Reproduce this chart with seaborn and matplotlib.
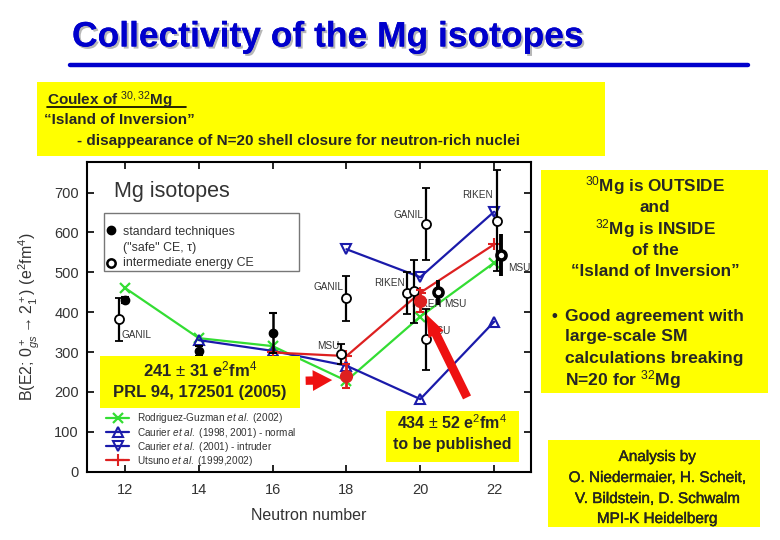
import numpy as np
import pandas as pd
import seaborn as sns
import matplotlib
matplotlib.use("Agg")
import matplotlib.pyplot as plt
from matplotlib.patches import Rectangle
from matplotlib.lines import Line2D
import matplotlib.patheffects as pe

# ---------------- data ----------------
theory_N_rg = [12, 14, 16, 18, 20, 22]
theory_B_rg = [461, 335, 315, 228, 389, 524]          # Rodriguez-Guzman
theory_N_cn = [14, 16, 18, 20, 22]
theory_B_cn = [330, 303, 266, 182, 376]               # Caurier normal
theory_N_ci = [18, 20, 22]
theory_B_ci = [558, 488, 652]                         # Caurier intruder
theory_N_ut = [16, 18, 20, 22]
theory_B_ut = [299, 290, 449, 570]                    # Utsuno

std_N = [12, 14, 16]
std_B = [431, 303, 348]
std_err = [8, 13, 50]

ie_N = [11.84, 18.0, 17.85, 20.16, 19.63, 19.84, 20.16, 22.07]
ie_B = [382, 435, 295, 621, 448, 452, 332, 630]
ie_err = [54, 57, 25, 90, 53, 80, 76, 126]

msu_N = [20.49, 22.2]
msu_B = [450, 544]
msu_err = [31, 53]

this_N = [18, 20]
this_B = [240, 428]
this_err = [31, 28]

lab_text = ["GANIL", "GANIL", "MSU", "GANIL", "RIKEN", "RIKEN", "MSU", "MSU", "RIKEN", "MSU"]
lab_N = [11.9, 17.92, 17.8, 20.08, 19.59, 19.74, 20.64, 20.21, 21.97, 22.38]
lab_B = [343, 464, 315, 644, 474, 421, 421, 354, 694, 511]
lab_ha = ["left", "right", "right", "right", "right", "left", "left", "left", "right", "left"]

xticks = [12, 14, 16, 18, 20, 22]
yticks = [0, 100, 200, 300, 400, 500, 600, 700]

# ---------------- style ----------------
sns.set_style("ticks")
plt.rcParams["font.family"] = ["Liberation Sans", "DejaVu Sans"]
plt.rcParams["mathtext.fontset"] = "custom"
plt.rcParams["mathtext.rm"] = "Liberation Sans"
plt.rcParams["mathtext.it"] = "Liberation Sans:italic"
plt.rcParams["mathtext.bf"] = "Liberation Sans:bold"

W, H = 780, 540
fig = plt.figure(figsize=(7.8, 5.4), dpi=100)
fig.patch.set_facecolor("white")

def fx(x):
    return x / W

def fy(y):
    return 1 - y / H

ax_l, ax_r, ax_t, ax_b = 87.3, 531, 162.3, 471.7
ax = fig.add_axes([fx(ax_l), fy(ax_b), (ax_r - ax_l) / W, (ax_b - ax_t) / H])
ax.set_xlim(10.98, 23.0)
ax.set_ylim(0, 776)

GREEN = "#33dd33"
BLUE = "#1a1aaa"
RED = "#dd2020"
GRAY = "#333333"

# theory curves
sns.lineplot(x=theory_N_rg, y=theory_B_rg, ax=ax, color=GREEN, lw=1.6, marker="x",
             markersize=7, markeredgewidth=1.6, markeredgecolor=GREEN,
             label=r"Rodriguez-Guzman $\it{et\ al.}$ (2002)", zorder=3)
sns.lineplot(x=theory_N_cn, y=theory_B_cn, ax=ax, color=BLUE, lw=1.6, marker="^",
             markersize=7, markeredgewidth=1.5, markerfacecolor="none", markeredgecolor=BLUE,
             label=r"Caurier $\it{et\ al.}$ (1998, 2001) - normal", zorder=3)
sns.lineplot(x=theory_N_ci, y=theory_B_ci, ax=ax, color=BLUE, lw=1.6, marker="v",
             markersize=7, markeredgewidth=1.5, markerfacecolor="none", markeredgecolor=BLUE,
             label=r"Caurier $\it{et\ al.}$ (2001) - intruder", zorder=3)
sns.lineplot(x=theory_N_ut, y=theory_B_ut, ax=ax, color=RED, lw=1.6, marker="+",
             markersize=9, markeredgewidth=1.5, markeredgecolor=RED,
             label=r"Utsuno $\it{et\ al.}$ (1999,2002)", zorder=3)

# experimental points
ax.errorbar(std_N, std_B, yerr=std_err, fmt="o", color="black", ms=6, capsize=3,
            elinewidth=1.8, capthick=1.5, zorder=5)
ax.errorbar(ie_N, ie_B, yerr=ie_err, fmt="o", color="black", mfc="white", mec="black",
            mew=1.3, ms=6.5, capsize=3, elinewidth=1.6, capthick=1.3, zorder=5)
ax.errorbar(msu_N, msu_B, yerr=msu_err, fmt="o", color="black", mfc="white", mec="black",
            mew=2.6, ms=6.5, capsize=0, elinewidth=2.8, zorder=5)
ax.errorbar(this_N, this_B, yerr=this_err, fmt="o", color=RED, ms=8.5, capsize=3,
            elinewidth=2, capthick=1.5, zorder=6)

for t, n, b, ha in zip(lab_text, lab_N, lab_B, lab_ha):
    ax.text(n, b, t, fontsize=7.2, color=GRAY, ha=ha, va="center", zorder=4)

# red arrows
ax.annotate("", xy=(17.69, 230), xytext=(16.82, 228),
            arrowprops=dict(arrowstyle="simple,head_width=0.75,head_length=0.7,tail_width=0.3",
                            color="#ee1111", lw=0, mutation_scale=20), zorder=7)
ax.annotate("", xy=(20.13, 401), xytext=(21.3, 180),
            arrowprops=dict(arrowstyle="simple,head_width=0.6,head_length=0.8,tail_width=0.32",
                            color="#ee1111", lw=0, mutation_scale=20), zorder=7)

# axes formatting
ax.set_xticks(xticks)
ax.set_yticks(yticks)
ax.tick_params(direction="in", length=5, width=1.2, top=True, right=True,
               labelsize=10.5, labelcolor=GRAY, colors="black")
ax.tick_params(axis="y", pad=6)
ax.tick_params(axis="x", pad=8)
for s in ax.spines.values():
    s.set_linewidth(1.5)
    s.set_color("black")
ax.set_xlabel("Neutron number", fontsize=11.5, color=GRAY, labelpad=8)
ax.set_ylabel(r"B(E2; $0^+_{gs}\rightarrow2^+_1$) (e$^2$fm$^4$)", fontsize=11.5,
              color=GRAY, labelpad=9)

ax.text((114 - ax_l) / (ax_r - ax_l), (ax_b - 192) / (ax_b - ax_t), "Mg isotopes",
        transform=ax.transAxes, fontsize=15.5, color=GRAY, ha="left", va="center")

# theory legend
leg = ax.legend(loc="lower left", bbox_to_anchor=((106 - ax_l) / (ax_r - ax_l), 0.012),
                frameon=False, fontsize=7.2, handlelength=2.3, handletextpad=0.8,
                labelspacing=0.02, borderpad=0, borderaxespad=0)
for t in leg.get_texts():
    t.set_color(GRAY)

# experimental legend (drawn in axes fraction)
def axx(x):
    return (x - ax_l) / (ax_r - ax_l)

def axy(y):
    return (ax_b - y) / (ax_b - ax_t)

ax.add_patch(Rectangle((axx(104), axy(271)), axx(299) - axx(104), axy(212.7) - axy(271),
                       transform=ax.transAxes, facecolor="white", edgecolor="#777777",
                       lw=1.0, zorder=8))
ax.add_line(Line2D([axx(110.7)], [axy(230)], transform=ax.transAxes, marker="o",
                   color="black", ms=6, zorder=9))
ax.add_line(Line2D([axx(110.7)], [axy(263)], transform=ax.transAxes, marker="o",
                   color="black", mfc="white", mew=1.8, ms=6, zorder=9))
ax.text(axx(123), axy(231.7), "standard techniques", transform=ax.transAxes,
        fontsize=8.9, color=GRAY, va="center", zorder=9)
ax.text(axx(123), axy(248), "(\"safe\" CE, \u03c4)", transform=ax.transAxes,
        fontsize=8.9, color=GRAY, va="center", zorder=9)
ax.text(axx(123), axy(263), "intermediate energy CE", transform=ax.transAxes,
        fontsize=8.9, color=GRAY, va="center", zorder=9)

# ---------------- slide decorations ----------------
fig.text(fx(72), fy(37), "Collectivity of the Mg isotopes", fontsize=25.5, fontweight="bold",
         color="#0000cc", ha="left", va="center",
         path_effects=[pe.withSimplePatchShadow(offset=(1.5, -1.5), shadow_rgbFace="#999999",
                                                alpha=0.7), pe.Normal()])
fig.add_artist(Line2D([fx(70), fx(748)], [fy(65), fy(65)], color="#0000cc", lw=3.2))

def ybox(x0, y0, x1, y1, z=10):
    fig.add_artist(Rectangle((fx(x0), fy(y1)), fx(x1) - fx(x0), fy(y0) - fy(y1),
                             transform=fig.transFigure, facecolor="#ffff00",
                             edgecolor="none", zorder=z))

# top box
ybox(37, 82, 605, 156)
fig.text(fx(47), fy(100), r"Coulex of $^{30,32}$Mg", fontsize=11, fontweight="bold",
         ha="left", va="center", zorder=11)
fig.add_artist(Line2D([fx(47), fx(186)], [fy(107), fy(107)], color="black", lw=1.2, zorder=11))
fig.text(fx(44), fy(120), "\u201cIsland of Inversion\u201d", fontsize=11, fontweight="bold",
         ha="left", va="center", zorder=11)
fig.text(fx(77), fy(141), "- disappearance of N=20 shell closure for neutron-rich nuclei",
         fontsize=11, fontweight="bold", ha="left", va="center", zorder=11)

# 241 box
ybox(100, 356, 300, 408)
fig.text(fx(200), fy(369), r"241 $\pm$ 31 e$^2$fm$^4$", fontsize=12, fontweight="bold",
         ha="center", va="center", zorder=11)
fig.text(fx(200), fy(392), "PRL 94, 172501 (2005)", fontsize=12, fontweight="bold",
         ha="center", va="center", zorder=11)

# 434 box
ybox(386, 411, 519, 462)
fig.text(fx(452), fy(423), r"434 $\pm$ 52 e$^2$fm$^4$", fontsize=11.5, fontweight="bold",
         ha="center", va="center", zorder=11)
fig.text(fx(452), fy(445), "to be published", fontsize=11.5, fontweight="bold",
         ha="center", va="center", zorder=11)

# right box
ybox(541, 170, 768, 393)
cx = 655
for yy, s in [(186, r"$^{30}$Mg is OUTSIDE"), (207, "and"), (229, r"$^{32}$Mg is INSIDE"),
              (250, "of the"), (271, "\u201cIsland of Inversion\u201d")]:
    fig.text(fx(cx), fy(yy), s, fontsize=12.3, fontweight="bold", ha="center", va="center",
             zorder=11)
fig.text(fx(551), fy(316), "\u2022", fontsize=12, fontweight="bold", ha="left", va="center",
         zorder=11)
for yy, s in [(316, "Good agreement with"), (337, "large-scale SM"),
              (358, "calculations breaking"), (380, r"N=20 for $^{32}$Mg")]:
    fig.text(fx(565), fy(yy), s, fontsize=12.6, fontweight="bold", ha="left", va="center",
             zorder=11)

# bottom-right box
ybox(548, 440, 760, 527)
for yy, s in [(457, "Analysis by"), (478, "O. Niedermaier, H. Scheit,"),
              (499, "V. Bildstein, D. Schwalm"), (519, "MPI-K Heidelberg")]:
    fig.text(fx(657), fy(yy), s, fontsize=11, ha="center", va="center", zorder=11,
             path_effects=[pe.withStroke(linewidth=0.25, foreground="black")])

fig.savefig("out.png", dpi=100)
